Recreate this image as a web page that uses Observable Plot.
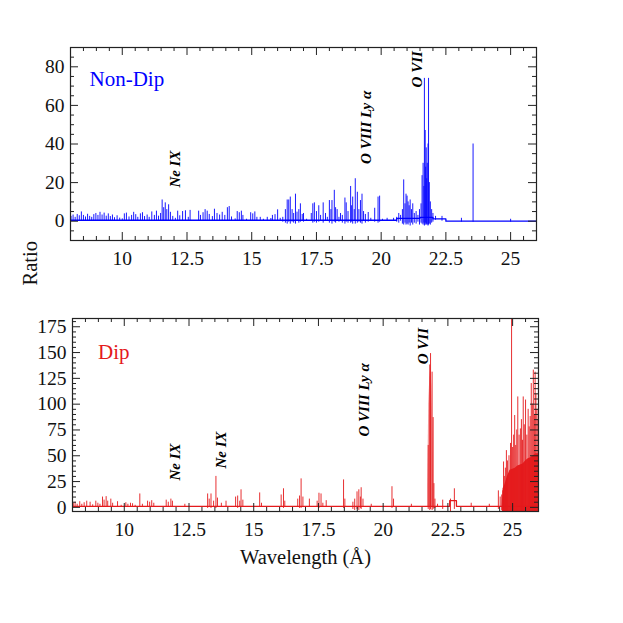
<!DOCTYPE html>
<html><head><meta charset="utf-8">
<script src="https://cdn.jsdelivr.net/npm/d3@7"></script>
<script src="https://cdn.jsdelivr.net/npm/@observablehq/plot@0.6"></script>
<style>
body{margin:0;background:#fff;}
#wrap{position:relative;width:623px;height:623px;font-family:"Liberation Serif",serif;}
#wrap svg{position:absolute;left:0;}
</style></head><body><div id="wrap"></div>
<script>
// ---------- Non-Dip (top) ----------
const topWave = [8.02,8.1,8.18,8.26,8.34,8.42,8.5,8.58,8.66,8.74,8.82,8.9,8.98,9.06,9.14,9.22,9.3,9.38,9.46,9.54,9.62,9.7,9.8,9.9,10.0,10.08,10.16,10.26,10.36,10.44,10.52,10.6,10.7,10.78,10.86,10.96,11.04,11.14,11.24,11.32,11.4,11.48,11.54,11.6,11.66,11.72,11.79,11.86,11.95,12.05,12.14,12.22,12.33,12.44,12.55,12.62,12.95,13.02,13.12,13.2,13.28,13.36,13.48,13.56,13.66,13.76,13.86,13.96,14.06,14.13,14.22,14.36,14.44,14.52,14.6,14.66,14.8,14.96,15.04,15.12,15.2,15.33,15.45,15.6,15.74,15.8,15.9,16.0,16.1,16.2,16.3,16.37,16.43,16.49,16.56,16.62,16.69,16.75,16.82,16.88,16.95,17.0,17.12,17.3,17.36,17.42,17.5,17.59,17.66,17.76,17.85,17.92,18.0,18.06,18.1,18.19,18.24,18.3,18.37,18.43,18.5,18.6,18.65,18.72,18.82,18.86,18.9,18.96,19.0,19.08,19.14,19.2,19.26,19.32,19.39,19.5,19.6,19.75,19.88,19.94,20.05,20.23,20.48,20.6,20.68,20.75,20.82,20.87,20.92,20.96,21.0,21.04,21.08,21.12,21.17,21.22,21.28,21.35,21.42,21.48,21.54,21.58,21.62,21.65,21.67,21.7,21.72,21.74,21.76,21.78,21.81,21.83,21.86,21.9,21.95,22.0,22.1,22.35,23.1,23.55,25.0];
const topHigh = [2.5,3.2,2,3.5,2.8,4.8,3,2.2,3.6,2.5,2,3.4,4,3,4.6,3.2,4.2,2.6,3.8,2.4,3.2,1.8,2.8,1.6,1.2,3.8,4.2,2.2,3,4.6,3.4,2,3.8,4.4,2.4,3.2,2,4.8,3,5.2,2.6,4,11,7,9.5,6,8.5,4.6,2.5,1.5,5.2,2.8,5,5.4,2,5.6,5.2,3,4.4,6,5.2,3.5,2.4,6.2,4,3.2,4.6,3,7,7.6,2.2,1.2,5,4.4,5.2,3,1,4.4,3.8,4.8,2,2,1,2,1.4,3,3.4,5.9,1.5,2,6,11,11,12.5,6,4,14,4.7,6,9,3.5,4,1,4,9,9.5,5,8,3,9.5,4,2,10.7,6,10.7,16,7,6,2,4,3,12,9.5,5,18,8,12.5,6,22,15,6,10.7,14,5,3.5,4.5,1.5,6.7,12.5,13,1,1.5,1.5,2,4,3,6,21.4,9,14,13,10,8,11,6,9,4,5,3,6,9,23.6,30,18,74,47,28,38,22,30,40,74,20,10,6,4,2.5,2.5,1.5,40,1];
const topLow = [0,0,0,0,0,0,0,0,0,0,0,0,0,0,0,0,0,0,0,0,0,0,0,0,0,0,0,0,0,0,0,0,0,0,0,0,0,0,0,0,0,0,0,0,0,0,0,0,0,0,0,0,0,0,0,0,0,0,0,0,0,0,0,0,0,0,0,0,0,0,0,0,0,0,0,0,0,0,0,0,0,0,0,0,0,0,0,0,0,-0.5,-1,-1.5,-0.5,-1.5,-0.5,-1,-1.5,0,-1,-0.5,0,-0.5,0,0,-1,-0.5,-1,-0.5,0,-1,0,0,-1,0,-1.5,-0.5,-1,0,-0.5,0,-1,-1.5,-0.5,-1,-1,-0.5,-1.5,0,-1.5,-1,-0.5,-1,-1.5,0,-1,-0.5,0,-0.5,-1,-0.5,0,0,0,-0.5,-1,0,-1.5,-2,-1,-2,-1.5,-2,-1,-2.5,-1,-2,-1,-1.5,-0.5,-2,-1,-1.5,-2,-1,-2.5,-2,-1,-2,-1.5,-2,-2.5,-2,-1.5,-2,-1,-0.5,0.5,0,-0.5,-0.5,-0.5];
const topBaseWave = [8, 20.6, 21.5, 22.0, 22.5, 26];
const topBaseValue = [0.5, 1.5, 2, 1.2, 0, 0];

// ---------- Dip (bottom) ----------
const dipWave = [8.03,8.1,8.18,8.28,8.36,8.45,8.55,8.68,8.78,8.9,8.98,9.06,9.16,9.22,9.3,9.36,9.48,9.55,9.74,9.88,10.06,10.14,10.24,10.32,10.42,10.6,10.7,10.9,10.98,11.06,11.14,11.62,11.7,11.8,11.86,12.34,13.22,13.28,13.35,13.45,13.54,13.6,13.75,13.93,14.3,14.38,14.46,14.51,14.58,15.23,15.3,16.06,16.15,16.2,16.7,16.77,16.83,16.9,17.15,17.45,17.52,17.6,17.67,17.8,18.47,18.52,18.83,18.9,18.99,19.06,19.12,19.15,19.22,19.54,20.34,20.4,21.09,21.74,21.8,21.83,21.89,21.93,21.96,22.0,22.1,22.3,22.6,22.75,23.4,24.1,24.45,24.52,24.58,
  24.62,24.65,24.68,24.72,24.76,24.8,24.86,24.92,24.96,25.0,25.04,25.08,25.12,25.16,25.2,25.25,25.3,25.34,25.38,25.41,25.45,25.5,25.55,25.6,25.64,25.68,25.72,25.76,25.8,25.84,25.87,25.9,25.94,25.98];
const dipHigh = [4,5,3,5.5,3,4.5,6,5,2.5,6,4,3,10,7,10.4,6,8,4,5.5,2,4.5,3,4,3.5,2,13,3,6,5,6.5,4,7,5,8,6,3,13,8,13,6,30,9,4,6,10,11,6,17,7,14,4,12,18,6,8,11,27.6,10,8,6,13.7,13,4,6.5,26.6,8,5,8,15,17,10,19,8,3,20,8,3,60,138,149,131,87,23,8,3,7,8,18,4,3,16,10,12,
  16,44,30,38,55,45,50,62,190,58,70,89,60,75,107,70,76,85,65,107,80,104,70,95,78,88,120,100,133,90,131,110,95,85];
const dipLow = [0,0,0,0,0,0,0,0,0,0,0,0,0,0,0,0,0,0,0,0,0,0,0,0,0,0,0,0,0,0,0,0,0,0,0,0,-1,0,-1,0,-1,0,0,0,0,-1,0,0,0,0,0,0,-1,0,0,-1,-1,0,0,0,-1,0,0,0,-1,0,-2,-3,-2,-3,-1,-2,0,0,-1,0,0,-2,-3,-2,-3,-2,-1,-1,0,-2,-4,-2,0,0,-2,0,-3,
  -4,-4,-4,-4,-4,-4,-4,-4,-4,-4,-4,-4,-4,-4,-4,-4,-4,-4,-4,-4,-4,-4,-4,-4,-4,-4,-4,-4,-4,-4,-4,-4,-4,-4];
const dipBaseWave = [8, 22.57, 22.83, 26];
const dipBaseValue = [1, 6.5, 1, 1];
const dipPeakWave = [21.72, 21.76, 21.8, 21.84, 21.88, 21.92, 21.95];
const dipPeakValue = [20, 100, 125, 135, 118, 70, 15];
const dipDenseWave = [24.6, 24.63, 24.7, 24.8, 24.9, 25.0, 25.1, 25.2, 25.3, 25.4, 25.5, 25.6, 25.7, 25.8, 25.9, 26];
const dipDenseValue = [2, 18, 22, 30, 36, 37, 38, 40, 41, 42, 45, 47, 48, 50, 52, 52];

// ---------- labels & ticks ----------
const topLineNames = ["Ne IX", "O VIII Ly α", "O VII"];
const topLineWave = [12.05, 19.42, 21.39];
const topLineY = [17.4, 29.7, 69.3];
const dipLineNames = ["Ne IX", "Ne IX", "O VIII Ly α", "O VII"];
const dipLineWave = [11.96, 13.74, 19.28, 21.54];
const dipLineY = [26, 37.6, 68.7, 138.7];
const xTicks = [10, 12.5, 15, 17.5, 20, 22.5, 25];
const topYTicks = [0, 20, 40, 60, 80];
const dipYTicks = [0, 25, 50, 75, 100, 125, 150, 175];

const wrap = document.getElementById("wrap");
const FONT = "Liberation Serif";

function panel(cfg) {
  const {wave, high, low, baseW, baseV, denseW, denseV, peakW, peakV, names, nW, nY, yDomain, yTicks, yMinorStep,
         color, title, titleDx, titleDy, top, height, mt, mb, ml, mr, extra} = cfg;
  const W = 623 - ml - mr, H = height - mt - mb;
  const idx = d3.range(wave.length);
  const bIdx = d3.range(baseW.length);
  const minorX = d3.range(8, 26.001, 0.5).filter(v => !xTicks.includes(v));
  const minorY = d3.range(Math.ceil(yDomain[0] / yMinorStep) * yMinorStep, yDomain[1] + 0.001, yMinorStep).filter(v => !yTicks.includes(v));
  const marks = [];
  if (denseW) {
    const dIdx = d3.range(denseW.length);
    marks.push(Plot.areaY(dIdx, {x: i => denseW[i], y1: yDomain[0], y2: i => denseV[i], fill: color, fillOpacity: 0.95, curve: "linear", clip: true}));
  }
  if (peakW) {
    const pIdx = d3.range(peakW.length);
    marks.push(Plot.areaY(pIdx, {x: i => peakW[i], y1: 0, y2: i => peakV[i], fill: color, fillOpacity: 0.45, curve: "linear", clip: true}));
  }
  marks.push(
    Plot.line(bIdx, {x: i => baseW[i], y: i => baseV[i], stroke: color, strokeWidth: 1.3, curve: "step-after", clip: true}),
    Plot.ruleX(idx, {x: i => wave[i], y1: i => low[i], y2: i => high[i], stroke: color, strokeWidth: 1, strokeOpacity: 0.9, clip: true}),
    Plot.text(d3.range(names.length), {x: i => nW[i], y: i => nY[i], text: i => names[i], rotate: -90, textAnchor: "start",
      fontWeight: "bold", fontStyle: "italic", fontSize: 15, fill: "#000"}),
    Plot.text([title], {frameAnchor: "top-left", dx: titleDx, dy: titleDy, textAnchor: "start", lineAnchor: "middle", fill: color, fontSize: 21}),
    // tick marks (inward)
    Plot.tickX(xTicks, {x: d => d, insetTop: H - 8, stroke: "#222"}),
    Plot.tickX(xTicks, {x: d => d, insetBottom: H - 8, stroke: "#222"}),
    Plot.tickX(minorX, {x: d => d, insetTop: H - 4, stroke: "#222"}),
    Plot.tickX(minorX, {x: d => d, insetBottom: H - 4, stroke: "#222"}),
    Plot.tickY(yTicks, {y: d => d, insetRight: W - 8, stroke: "#222"}),
    Plot.tickY(yTicks, {y: d => d, insetLeft: W - 8, stroke: "#222"}),
    Plot.tickY(minorY, {y: d => d, insetRight: W - 4, stroke: "#222"}),
    Plot.tickY(minorY, {y: d => d, insetLeft: W - 4, stroke: "#222"}),
    Plot.axisX(xTicks, {tickSize: 0, tickPadding: 11, fontSize: 19.5, label: null, fill: "#111", tickFormat: d => String(d)}),
    Plot.axisY(yTicks, {tickSize: 0, tickPadding: 6, fontSize: 19.5, label: null, fill: "#111"}),
    Plot.frame({stroke: "#222", strokeWidth: 1.2}),
    ...(extra || [])
  );
  const svg = Plot.plot({
    width: 623, height, marginTop: mt, marginBottom: mb, marginLeft: ml, marginRight: mr,
    x: {domain: [8, 26]},
    y: {domain: yDomain},
    style: {fontFamily: FONT, fontSize: "19px", color: "#111", background: "transparent", overflow: "visible"},
    marks
  });
  svg.style.top = top + "px";
  wrap.appendChild(svg);
}

panel({
  wave: topWave, high: topHigh, low: topLow, baseW: topBaseWave, baseV: topBaseValue,
  names: topLineNames, nW: topLineWave, nY: topLineY,
  yDomain: [-10, 90], yTicks: topYTicks, yMinorStep: 5,
  color: "#0000ff", title: "Non-Dip", titleDx: 19, titleDy: 31.5,
  top: 0, height: 280, mt: 47, mb: 40, ml: 70, mr: 87
});

panel({
  wave: dipWave, high: dipHigh, low: dipLow, baseW: dipBaseWave, baseV: dipBaseValue,
  denseW: dipDenseWave, denseV: dipDenseValue, peakW: dipPeakWave, peakV: dipPeakValue,
  names: dipLineNames, nW: dipLineWave, nY: dipLineY,
  yDomain: [-4, 183], yTicks: dipYTicks, yMinorStep: 5,
  color: "#e41a1c", title: "Dip", titleDx: 25.5, titleDy: 33.5,
  top: 280, height: 343, mt: 38, mb: 112, ml: 72, mr: 85,
  extra: [
    Plot.text(["Wavelength (Å)"], {frameAnchor: "bottom", dy: 46, lineAnchor: "middle", fontSize: 20.5, fill: "#111"}),
    Plot.text(["Ratio"], {frameAnchor: "top-left", dx: -42, dy: -33, rotate: -90, lineAnchor: "middle", fontSize: 20.5, fill: "#111"})
  ]
});
</script>
</body></html>
